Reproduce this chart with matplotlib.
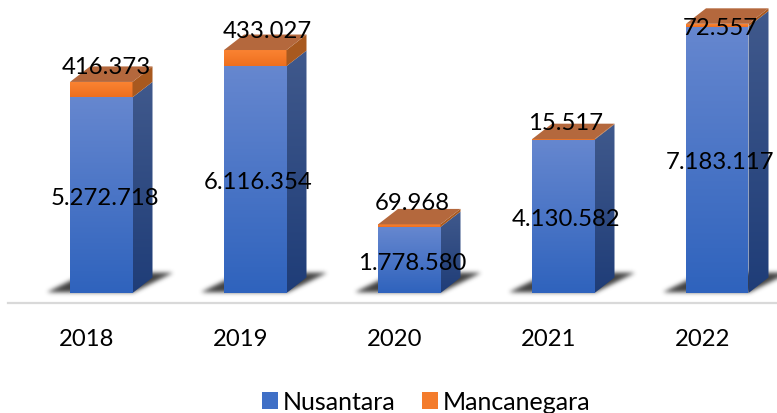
import numpy as np
import matplotlib
matplotlib.use("Agg")
import matplotlib.pyplot as plt
from matplotlib.colors import LinearSegmentedColormap as LSC
from matplotlib.patches import Polygon, Patch
from matplotlib.path import Path

years = ["2018", "2019", "2020", "2021", "2022"]
nusantara = [5272718, 6116354, 1778580, 4130582, 7183117]
mancanegara = [416373, 433027, 69968, 15517, 72557]
nus_labels = ["5.272.718", "6.116.354", "1.778.580", "4.130.582", "7.183.117"]
man_labels = ["416.373", "433.027", "69.968", "15.517", "72.557"]

W, H = 777, 413
PX_Y = 37.1e-6      # px per unit
PX_X = 154.0        # px per category
X0 = 87
FS = 17.2
plt.rcParams["font.family"] = ["Lato", "DejaVu Sans"]
fig = plt.figure(figsize=(W/100, H/100), dpi=100, facecolor="white")
ax = fig.add_axes([8/W, (H-303)/H, (W-8)/W, 303/H])
ax.set_xlim((8-X0)/PX_X, (W-X0)/PX_X)
ax.set_ylim(-10/PX_Y, 293/PX_Y)
xlim, ylim = ax.get_xlim(), ax.get_ylim()

dx, dy = 20/PX_X, 15.5/PX_Y
off = -17/PX_X
bw = 62.5/PX_X

def grad(poly, top, bottom, ymin, ymax, z):
    cm = LSC.from_list("c", [top, bottom])
    xs = [p[0] for p in poly]
    im = ax.imshow(np.linspace(0, 1, 128).reshape(-1, 1), cmap=cm, aspect="auto",
                   extent=(min(xs), max(xs), ymin, ymax), origin="upper",
                   zorder=z, interpolation="bilinear")
    im.set_clip_path(Polygon(poly, transform=ax.transData))

def shadow(l, r):
    # blurred raster of the cast shadow, on a 1 px grid around the bar foot
    pad = 34
    xs = np.arange(l*PX_X-pad, r*PX_X+pad+12)
    ys = np.arange(-10, 32)
    gx, gy = np.meshgrid(xs, ys)
    lp, rp = l*PX_X, r*PX_X
    p = Path([(lp-24, 0), (rp, 0), (rp+40, 20), (lp+16, 20)])
    cov = p.contains_points(np.c_[gx.ravel(), gy.ravel()]).reshape(gx.shape).astype(float)
    k = np.exp(-np.arange(-6, 7)**2/(2*2.2**2)); k /= k.sum()
    cov = np.apply_along_axis(lambda a: np.convolve(a, k, mode="same"), 0, cov)
    cov = np.apply_along_axis(lambda a: np.convolve(a, k, mode="same"), 1, cov)
    img = np.zeros(cov.shape+(4,))
    img[..., :3] = 0.17
    img[..., 3] = np.clip(cov, 0, 1)*0.9
    ax.imshow(img, aspect="auto", origin="lower", zorder=1, interpolation="bilinear",
              extent=(xs[0]/PX_X, xs[-1]/PX_X, ys[0]/PX_Y, ys[-1]/PX_Y))

for i, (n, m) in enumerate(zip(nusantara, mancanegara)):
    l = i + off; r = l + bw
    shadow(l, r)
    t = n + m
    grad([(l, 0), (r, 0), (r, n), (l, n)], "#6687cf", "#2f63bd", 0, n, 3)
    grad([(r, 0), (r+dx, dy), (r+dx, n+dy), (r, n)], "#40598c", "#1f3d78", 0, n+dy, 3)
    grad([(l, n), (r, n), (r, t), (l, t)], "#fb8433", "#ee6f1f", n, t, 4)
    ax.add_patch(Polygon([(r, n), (r+dx, n+dy), (r+dx, t+dy), (r, t)], fc="#a8591f", ec="none", zorder=4))
    ax.add_patch(Polygon([(l, t), (r, t), (r+dx, t+dy), (l+dx, t+dy)], fc="#b4683d", ec="none", zorder=5))

x_nus = [105, 258, 412, 566, 720]
x_man = [106, 267, 412, 566, 720]
y_man = [68, 32, 204, 123, 29]
for i in range(5):
    ax.text((x_nus[i]-X0)/PX_X, nusantara[i]/2 - 3/PX_Y, nus_labels[i], ha="center", va="center",
            fontsize=FS, color="black", zorder=10)
    ax.text((x_man[i]-X0)/PX_X, (293-y_man[i])/PX_Y, man_labels[i], ha="center", va="center",
            fontsize=FS, color="black", zorder=10)

ax.set_xticks(range(5), years)
ax.tick_params(axis="x", length=0, pad=19, labelsize=FS, labelcolor="black")
ax.set_yticks([])
for s in ["top", "left", "right"]:
    ax.spines[s].set_visible(False)
ax.spines["bottom"].set_color("#d9d9d9")
ax.spines["bottom"].set_linewidth(1.6)
ax.set_xlim(xlim); ax.set_ylim(ylim)
ax.patch.set_alpha(0)

fig.legend(handles=[Patch(fc="#3f6fc6", label="Nusantara"), Patch(fc="#f47c2c", label="Mancanegara")],
           loc="center", bbox_to_anchor=(426/W, (H-402)/H), ncol=2, frameon=False,
           fontsize=18, handlelength=0.64, handleheight=0.64, handletextpad=0.2, columnspacing=1.05,
           borderpad=0, borderaxespad=0)
fig.savefig("out.png", dpi=100)
